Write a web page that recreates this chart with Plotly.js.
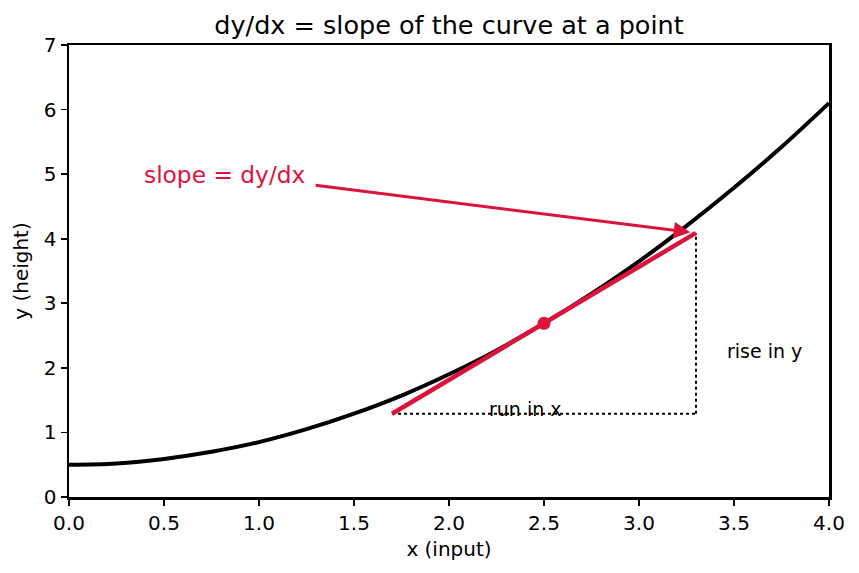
<!DOCTYPE html>
<html>
<head>
<meta charset="utf-8">
<script src="https://cdn.plot.ly/plotly-3.0.1.min.js"></script>
<style>html,body{margin:0;padding:0;background:#fff;}#chart{width:859px;height:573px;}</style>
</head>
<body>
<div id="chart"></div>
<script>
// Curve values
const curveX = [0, 0.25, 0.5, 0.75, 1.0, 1.25, 1.5, 1.75, 2.0, 2.25, 2.5, 2.75, 3.0, 3.25, 3.5, 3.75, 4.0];
const curveY = [0.5, 0.52, 0.59, 0.70, 0.85, 1.05, 1.29, 1.57, 1.9, 2.27, 2.69, 3.15, 3.65, 4.2, 4.79, 5.42, 6.1];
// Tangent segment
const tangentX = [1.7, 3.3];
const tangentY = [1.29, 4.09];
// Point of tangency
const pointX = [2.5];
const pointY = [2.69];
// Run / rise guide lines
const runX = [1.7, 3.3];
const runY = [1.29, 1.29];
const riseX = [3.3, 3.3];
const riseY = [1.29, 4.09];
// Tick labels
const xTickVals = [0, 0.5, 1, 1.5, 2, 2.5, 3, 3.5, 4];
const xTickText = ["0.0", "0.5", "1.0", "1.5", "2.0", "2.5", "3.0", "3.5", "4.0"];
const yTickVals = [0, 1, 2, 3, 4, 5, 6, 7];
const yTickText = ["0", "1", "2", "3", "4", "5", "6", "7"];
// Annotation anchors
const arrowFrom = [1.29, 4.83];
const arrowTo = [3.27, 4.10];
const slopeLabel = {x: 1.26, y: 4.99, text: "slope = dy/dx"};
const runLabel = {x: 2.2, y: 1.37, text: "run in x"};
const riseLabel = {x: 3.45, y: 2.26, text: "rise in y"};

const crimson = "#DC143C";
const font = "DejaVu Sans, sans-serif";

const traces = [
  {x: runX, y: runY, mode: "lines", line: {color: "black", width: 2, dash: "dot"}, hoverinfo: "skip"},
  {x: riseX, y: riseY, mode: "lines", line: {color: "black", width: 2, dash: "dot"}, hoverinfo: "skip"},
  {x: curveX, y: curveY, mode: "lines", line: {color: "black", width: 4, shape: "spline"}},
  {x: tangentX, y: tangentY, mode: "lines", line: {color: crimson, width: 4.5}},
  {x: pointX, y: pointY, mode: "markers", marker: {color: crimson, size: 13}}
];

const layout = {
  width: 859, height: 573,
  margin: {l: 69, r: 30, t: 45, b: 76},
  paper_bgcolor: "white", plot_bgcolor: "white",
  showlegend: false,
  font: {family: font, color: "black", size: 20},
  title: {text: "dy/dx = slope of the curve at a point", font: {family: font, size: 25.5, color: "black"}, xref: "paper", x: 0.5, xanchor: "center", y: 0.956, yanchor: "middle"},
  xaxis: {
    range: [0, 4], tickvals: xTickVals, ticktext: xTickText,
    showline: true, mirror: true, linecolor: "black", linewidth: 2.5,
    ticks: "outside", ticklen: 6, tickwidth: 1.6, tickcolor: "black",
    showgrid: false, zeroline: false, tickfont: {size: 20},
    title: {text: "x (input)", font: {size: 20}, standoff: 9}
  },
  yaxis: {
    range: [0, 7], tickvals: yTickVals, ticktext: yTickText,
    showline: true, mirror: true, linecolor: "black", linewidth: 2.5,
    ticks: "outside", ticklen: 6, tickwidth: 1.6, tickcolor: "black",
    showgrid: false, zeroline: false, tickfont: {size: 20},
    title: {text: "y (height)", font: {size: 20}, standoff: 10}
  },
  annotations: [
    {x: arrowTo[0], y: arrowTo[1], ax: arrowFrom[0], ay: arrowFrom[1], axref: "x", ayref: "y", xref: "x", yref: "y",
     text: "", showarrow: true, arrowhead: 2, arrowsize: 1.1, arrowwidth: 3, arrowcolor: crimson, standoff: 0},
    {x: slopeLabel.x, y: slopeLabel.y, text: slopeLabel.text, showarrow: false, xanchor: "right", yanchor: "middle",
     font: {family: font, size: 23.3, color: crimson}},
    {x: runLabel.x, y: runLabel.y, text: runLabel.text, showarrow: false, xanchor: "left", yanchor: "middle",
     font: {family: font, size: 19, color: "black"}},
    {x: riseLabel.x, y: riseLabel.y, text: riseLabel.text, showarrow: false, xanchor: "left", yanchor: "middle",
     font: {family: font, size: 19, color: "black"}}
  ]
};

Plotly.newPlot("chart", traces, layout, {displayModeBar: false, staticPlot: true});
</script>
</body>
</html>
